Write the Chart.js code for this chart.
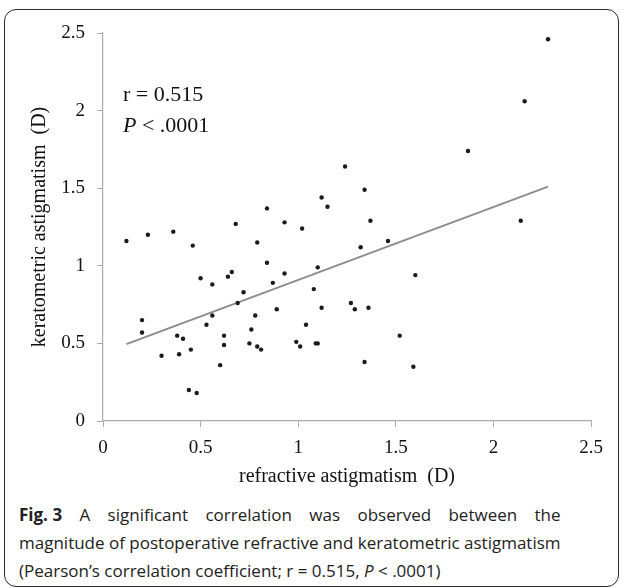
<!DOCTYPE html>
<html>
<head>
<meta charset="utf-8">
<script src="https://cdn.jsdelivr.net/npm/chart.js@4.4.0/dist/chart.umd.min.js"></script>
<style>
  html, body { margin: 0; padding: 0; background: #fff; }
  body { width: 624px; height: 588px; position: relative; overflow: hidden; }
  #frame { position: absolute; left: 4px; top: 9px; width: 613px; height: 576px; border: 1.5px solid #2a2a2a; border-radius: 12px; }
  #wrap { position: absolute; left: 0; top: 0; width: 624px; height: 500px; }
  #caption { position: absolute; left: 19px; top: 501px; display: inline-block; font-family: "Open Sans"; font-size: 17px; line-height: 28px; color: #222; }
  #caption .l1 { text-align: justify; text-align-last: justify; }
  #caption .l1 b { display: inline-block; }
  #caption .l2, #caption .l3 { white-space: nowrap; }
</style>
</head>
<body>
<div id="frame"></div>
<div id="wrap"><canvas id="myChart" width="624" height="500"></canvas></div>
<div id="caption">
  <div class="l1"><b>Fig. 3</b> A significant correlation was observed between the</div>
  <div class="l2">magnitude of postoperative refractive and keratometric astigmatism</div>
  <div class="l3">(Pearson’s correlation coefficient; r = 0.515, <i>P</i> &lt; .0001)</div>
</div>
<script>
// refractive astigmatism (D) vs keratometric astigmatism (D), one entry per eye
let refractive = [0.12, 0.23, 0.36, 0.46, 0.68, 0.84, 0.79, 0.84, 0.50, 0.56, 0.64, 0.66, 0.72, 0.69,
  0.20, 0.20, 0.56, 0.53, 0.78, 0.76, 0.38, 0.41, 0.62, 0.62, 0.75, 0.79, 0.81, 0.45, 0.30, 0.39,
  0.60, 0.44, 0.48, 1.24, 1.34, 1.12, 1.15, 0.93, 1.02, 1.37, 1.46, 1.32, 0.93, 1.10, 0.87, 1.08,
  1.60, 0.89, 1.12, 1.27, 1.29, 1.36, 1.04, 0.99, 1.01, 1.09, 1.10, 1.52, 1.34, 1.59, 2.28, 2.16,
  1.87, 2.14];
let keratometric = [1.16, 1.20, 1.22, 1.13, 1.27, 1.37, 1.15, 1.02, 0.92, 0.88, 0.93, 0.96, 0.83, 0.76,
  0.65, 0.57, 0.68, 0.62, 0.68, 0.59, 0.55, 0.53, 0.55, 0.49, 0.50, 0.48, 0.46, 0.46, 0.42, 0.43,
  0.36, 0.20, 0.18, 1.64, 1.49, 1.44, 1.38, 1.28, 1.24, 1.29, 1.16, 1.12, 0.95, 0.99, 0.89, 0.85,
  0.94, 0.72, 0.73, 0.76, 0.72, 0.73, 0.62, 0.51, 0.48, 0.50, 0.50, 0.55, 0.38, 0.35, 2.46, 2.06,
  1.74, 1.29];
// fitted line end points
let fitX = [0.12, 2.28];
let fitY = [0.495, 1.51];
let tickLabels = ['0', '0.5', '1', '1.5', '2', '2.5'];

let serif = 'Liberation Serif';

const note = {
  id: 'note',
  afterDatasetsDraw(chart) {
    const { ctx, chartArea } = chart;
    const x = chartArea.left + 20;
    ctx.save();
    ctx.fillStyle = '#111';
    ctx.textBaseline = 'middle';
    ctx.font = '22px "' + serif + '"';
    ctx.fillText('r = 0.515', x, 95);
    ctx.font = 'italic 22px "' + serif + '"';
    ctx.fillText('P', x, 126);
    let w = ctx.measureText('P').width;
    ctx.font = '22px "' + serif + '"';
    ctx.fillText(' < .0001', x + w, 126);
    ctx.restore();
  }
};

let fmt = (v) => tickLabels[Math.round(v * 2)];

let ctx = document.getElementById('myChart').getContext('2d');
let myChart = new Chart(ctx, {
  type: 'scatter',
  data: {
    datasets: [{
      data: refractive.map((v, i) => ({ x: v, y: keratometric[i] })),
      pointRadius: 2.2,
      pointBackgroundColor: '#1a1a1a',
      pointBorderWidth: 0
    }, {
      type: 'line',
      data: fitX.map((v, i) => ({ x: v, y: fitY[i] })),
      borderColor: '#8c8c8c',
      borderWidth: 2,
      pointRadius: 0
    }]
  },
  options: {
    responsive: false,
    animation: false,
    layout: { padding: { left: 0, right: 33, top: 33, bottom: 0 } },
    plugins: { legend: { display: false }, tooltip: { enabled: false } },
    scales: {
      x: {
        type: 'linear', min: 0, max: 2.5,
        ticks: { stepSize: 0.5, color: '#111', padding: 10, font: { family: serif, size: 19 }, callback: fmt },
        grid: { drawOnChartArea: false, tickLength: 6, color: '#aaa' },
        border: { color: '#aaa', width: 1.2 },
        title: { display: true, text: 'refractive astigmatism  (D)', color: '#111',
          font: { family: serif, size: 20 }, padding: { top: 0, bottom: 11 } },
        afterFit: (s) => { s.height = 79; }
      },
      y: {
        min: 0, max: 2.5,
        ticks: { stepSize: 0.5, color: '#111', padding: 12, font: { family: serif, size: 19 }, callback: fmt },
        grid: { drawOnChartArea: false, tickLength: 6, color: '#aaa' },
        border: { color: '#aaa', width: 1.2 },
        title: { display: true, text: 'keratometric astigmatism  (D)', color: '#111',
          font: { family: serif, size: 20 }, padding: { top: 28, bottom: 0 } },
        afterFit: (s) => { s.width = 103; }
      }
    }
  },
  plugins: [note]
});
</script>
</body>
</html>
